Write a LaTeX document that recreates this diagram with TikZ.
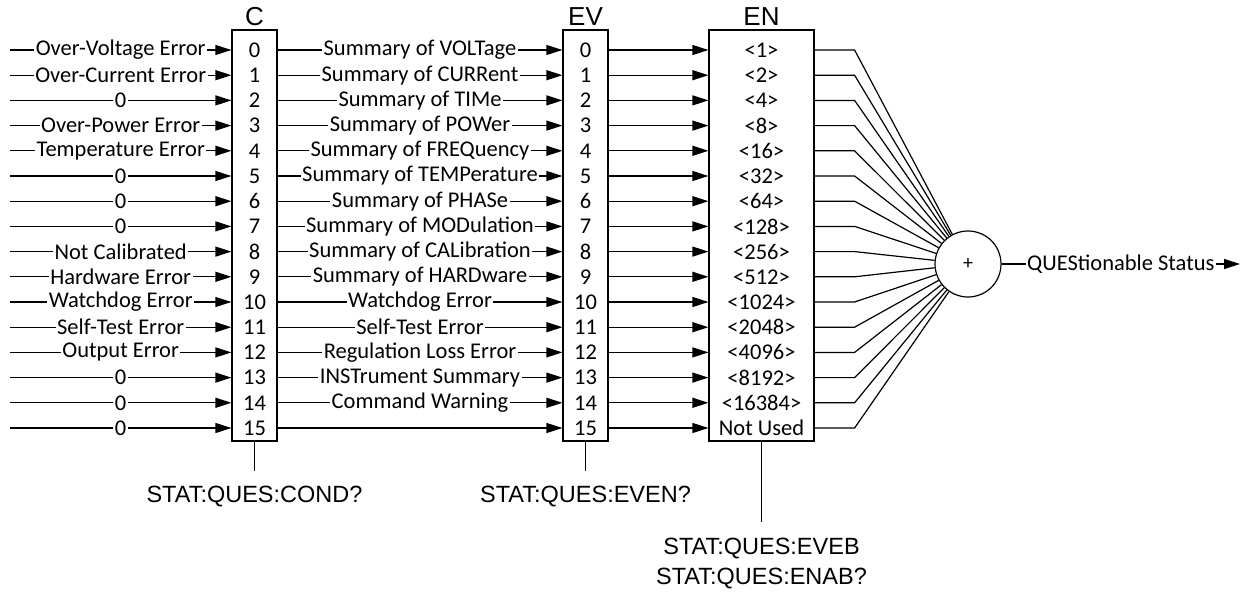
\documentclass[tikz,border=0pt]{standalone}
\usepackage{fontspec}
\setmainfont{Carlito}
\newfontfamily\arialf{Liberation Sans}
\usetikzlibrary{arrows.meta}
\begin{document}
\begin{tikzpicture}[x=1pt,y=-1pt,line width=1.2pt,
  txt/.style={font=\fontsize{22.5}{24}\selectfont,inner sep=0pt},
  lab/.style={txt,fill=white,inner xsep=1.5pt},
  reg/.style={draw,rectangle,minimum height=411pt,inner sep=0pt},
  ttl/.style={font=\arialf\fontsize{26}{28}\selectfont,inner sep=0pt,anchor=base},
  cmd/.style={font=\arialf\fontsize{23.5}{30}\selectfont,inner sep=0pt,align=center},
  arr/.style={-{Triangle[length=16pt,width=10pt]}},
  sumc/.style={draw,circle,minimum size=66pt,inner sep=0pt,font=\fontsize{20}{22}\selectfont}]
\useasboundingbox (0,0) rectangle (1241,594);
% boxes
\node[reg,minimum width=45pt] (C) at (254.5,235.5) {};
\node[reg,minimum width=45pt] (EV) at (585.5,235.5) {};
\node[reg,minimum width=105pt] (EN) at (761.5,235.5) {};
\node[ttl] (tC) at (254.5,26) {C};
\node[ttl] (tEV) at (585.5,26) {EV};
\node[ttl] (tEN) at (761.5,26) {EN};
% row labels
\foreach \i in {0,...,15}{
  \node[txt] (c\i) at (254.5,{50+25.2*\i}) {\i};
  \node[txt] (v\i) at (585.5,{50+25.2*\i}) {\i};
  \coordinate (in\i) at (10,{50+25.2*\i});
}
\foreach \i/\t in {0/{<1>},1/{<2>},2/{<4>},3/{<8>},4/{<16>},5/{<32>},6/{<64>},7/{<128>},8/{<256>},9/{<512>},10/{<1024>},11/{<2048>},12/{<4096>},13/{<8192>},14/{<16384>},15/{Not Used}}{
  \node[txt] (e\i) at (761.5,{50+25.2*\i}) {\t};
}
% sum
\node[sumc] (sum) at (968,264) {+};
\coordinate (out) at (1240,264);
% inputs
\foreach \i/\t in {0/Over-Voltage Error,1/Over-Current Error,2/0,3/Over-Power Error,4/Temperature Error,5/0,6/0,7/0,8/Not Calibrated,9/Hardware Error,10/Watchdog Error,11/Self-Test Error,12/Output Error,13/0,14/0,15/0}{
  \draw[arr] (in\i) -- (C.west |- c\i) node[midway,lab] {\t};
}
% C to EV
\foreach \i/\t in {0/Summary of VOLTage,1/Summary of CURRent,2/Summary of TIMe,3/Summary of POWer,4/Summary of FREQuency,5/Summary of TEMPerature,6/Summary of PHASe,7/Summary of MODulation,8/Summary of CALibration,9/Summary of HARDware,10/Watchdog Error,11/Self-Test Error,12/Regulation Loss Error,13/INSTrument Summary,14/Command Warning}{
  \draw[arr] (C.east |- c\i) -- (EV.west |- v\i) node[midway,lab] {\t};
}
\draw[arr] (C.east |- c15) -- (EV.west |- v15);
% EV to EN and EN to sum
\foreach \i in {0,...,15}{
  \draw[arr] (EV.east |- v\i) -- (EN.west |- e\i);
  \draw (EN.east |- e\i) -- ++(40,0) -- (sum);
}
\draw[arr] (sum) -- (out) node[midway,lab] {QUEStionable Status};
% query commands
\coordinate (cEnd) at (254.5,471);
\coordinate (vEnd) at (585.5,471);
\coordinate (eEnd) at (761.5,522);
\draw (C.south) -- (cEnd);
\draw (EV.south) -- (vEnd);
\draw (EN.south) -- (eEnd);
\node[cmd] (qC) at (254.5,497) {STAT:QUES:COND?};
\node[cmd] (qV) at (585.5,497) {STAT:QUES:EVEN?};
\node[cmd] (qE) at (761.5,564) {STAT:QUES:EVEB\\STAT:QUES:ENAB?};
\end{tikzpicture}
\end{document}
